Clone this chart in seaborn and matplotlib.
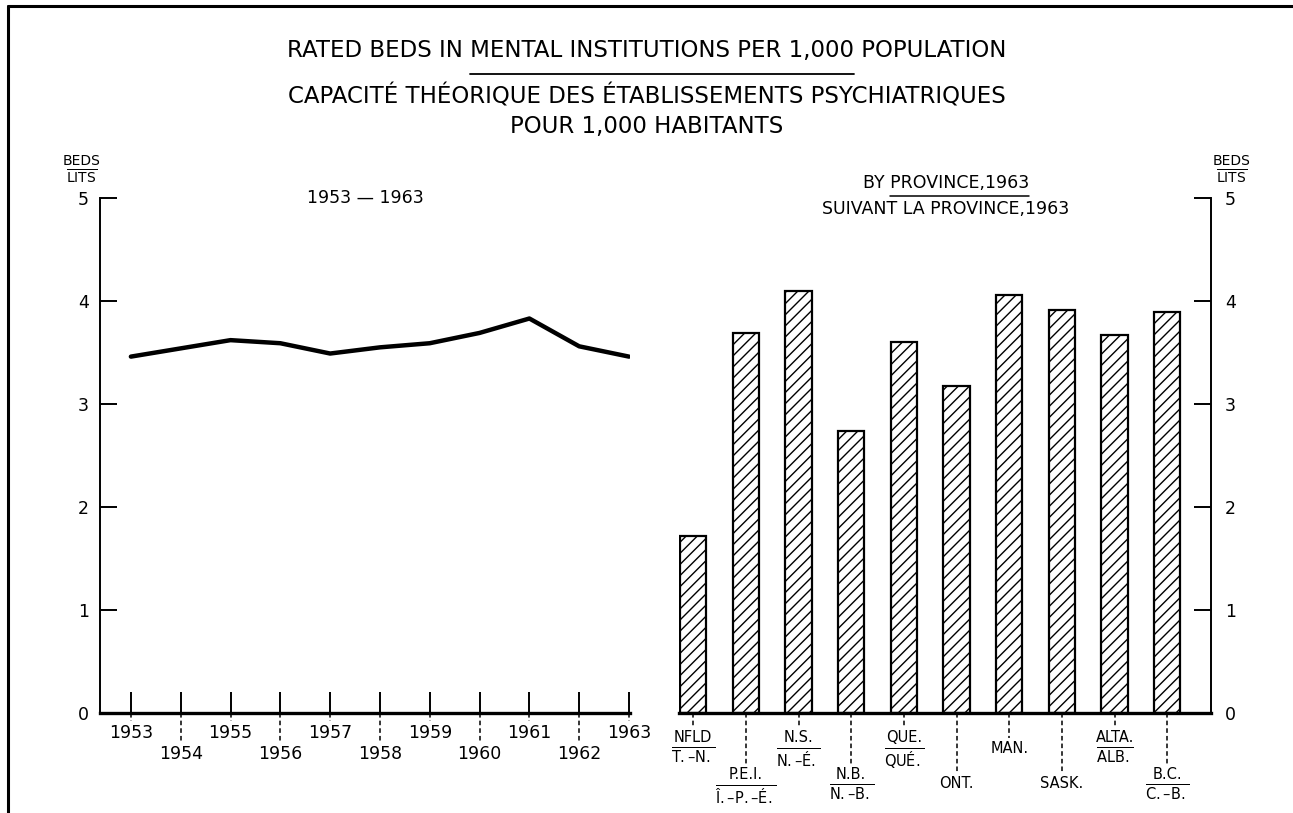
import numpy as np
import pandas as pd
import matplotlib
matplotlib.use("Agg")
import matplotlib.pyplot as plt
from matplotlib.lines import Line2D
import seaborn as sns

# donnees
years = [1953, 1954, 1955, 1956, 1957, 1958, 1959, 1960, 1961, 1962, 1963]
beds_trend = [3.46, 3.54, 3.62, 3.59, 3.49, 3.55, 3.59, 3.69, 3.83, 3.56, 3.46]

provinces = ["NFLD", "P.E.I.", "N.S.", "N.B.", "QUE.", "ONT.", "MAN.", "SASK.", "ALTA.", "B.C."]
provinces_fr = ["T.–N.", "Î.–P.–É.", "N.–É.", "N.–B.", "QUÉ.", None, None, None, "ALB.", "C.–B."]
beds_1963 = [1.72, 3.69, 4.10, 2.74, 3.60, 3.17, 4.06, 3.91, 3.67, 3.89]

title_en = "RATED BEDS IN MENTAL INSTITUTIONS PER 1,000 POPULATION"
title_fr = "CAPACITÉ THÉORIQUE DES ÉTABLISSEMENTS PSYCHIATRIQUES"
title_fr2 = "POUR 1,000 HABITANTS"

sns.set_theme(style="white")
plt.rcParams['font.family'] = ['DejaVu Sans']
plt.rcParams['mathtext.fontset'] = 'dejavusans'
plt.rcParams['hatch.linewidth'] = 1.0
plt.rcParams['hatch.color'] = 'black'
plt.rcParams['text.color'] = 'black'
plt.rcParams['xtick.color'] = 'black'
plt.rcParams['ytick.color'] = 'black'
plt.rcParams['axes.labelcolor'] = 'black'

W, H = 1293, 813
fig = plt.figure(figsize=(W / 100, H / 100), dpi=100)
fig.patch.set_facecolor('white')

def fx(px):
    return px / W

def fy(py):
    return 1 - py / H

ax1 = fig.add_axes([fx(100), fy(713), fx(630) - fx(100), fy(198) - fy(713)])
ax2 = fig.add_axes([fx(679), fy(713), fx(1211) - fx(679), fy(198) - fy(713)])

# Partie gauche : evolution 1953-1963
df_trend = pd.DataFrame({'year': years, 'beds': beds_trend})
sns.lineplot(data=df_trend, x='year', y='beds', ax=ax1, color='black', lw=3.2)
ax1.set_xlim(1952.38, 1963.02)
ax1.set_ylim(0, 5)
ax1.set_xlabel('')
ax1.set_ylabel('')
for s in ['top', 'right']:
    ax1.spines[s].set_visible(False)
ax1.spines['left'].set_linewidth(1.4)
ax1.spines['bottom'].set_linewidth(2.4)
for s in ax1.spines.values():
    s.set_color('black')
ax1.set_yticks(range(6))
ax1.set_yticklabels([str(v) for v in range(6)])
ax1.set_xticks(years)
ax1.set_xticklabels([str(y) if i % 2 == 0 else '\n' + str(y) for i, y in enumerate(years)])
ax1.tick_params(axis='y', direction='in', length=12, width=1.4, pad=8, labelsize=12.5, left=True)
ax1.tick_params(axis='x', direction='in', length=15, width=1.4, pad=8, labelsize=12.5, bottom=True)
trans1 = ax1.get_xaxis_transform()
for i, y in enumerate(years):
    low = -8 / 515 if i % 2 == 0 else -30 / 515
    ax1.plot([y, y], [0, low], transform=trans1, color='black', lw=1.1,
             ls=(0, (3, 2)), clip_on=False)
ax1.text(0.5, 1.0, "1953 — 1963", transform=ax1.transAxes, ha='center', va='center',
         fontsize=12.5)

# Partie droite : par province, 1963
df_prov = pd.DataFrame({'province': provinces, 'beds': beds_1963})
sns.barplot(data=df_prov, x='province', y='beds', ax=ax2, color='white', width=0.5,
            edgecolor='black', linewidth=1.6, hatch='///', saturation=1)
for p in ax2.patches:
    p.set_facecolor('white')
    p.set_edgecolor('black')
ax2.set_xlim(-0.27, 9.83)
ax2.set_ylim(0, 5)
ax2.set_xlabel('')
ax2.set_ylabel('')
for s in ['top', 'left']:
    ax2.spines[s].set_visible(False)
ax2.spines['right'].set_visible(True)
ax2.spines['right'].set_linewidth(1.4)
ax2.spines['bottom'].set_linewidth(2.4)
for s in ax2.spines.values():
    s.set_color('black')
ax2.yaxis.tick_right()
ax2.set_yticks(range(6))
ax2.set_yticklabels([str(v) for v in range(6)])
ax2.tick_params(axis='y', direction='in', length=12, width=1.4, pad=10, labelsize=12.5,
                right=True, left=False)
ax2.set_xticks([])

trans2 = ax2.get_xaxis_transform()
row1_two, row2_two, row1_one, row2_one = 17, 54, 28, 63
for i, (en, fr) in enumerate(zip(provinces, provinces_fr)):
    if fr is None:
        top = row1_one if i % 2 == 0 else row2_one
        label = en
    else:
        top = row1_two if i % 2 == 0 else row2_two
        label = en + "\n" + r"$\overline{\mathrm{" + fr + "}}$"
    ax2.plot([i, i], [0, -(top - 3) / 515], transform=trans2, color='black', lw=1.1,
             ls=(0, (3, 2)), clip_on=False)
    ax2.annotate(label, xy=(i, 0), xycoords=trans2, xytext=(0, -top * 0.72),
                 textcoords='offset points', ha='center', va='top', fontsize=10.5,
                 linespacing=1.1, annotation_clip=False)

# titres
fig.text(0.5, fy(50), title_en, ha='center', va='center', fontsize=16.5)
fig.text(0.5, fy(96), title_fr, ha='center', va='center', fontsize=16.5)
fig.text(0.5, fy(126), title_fr2, ha='center', va='center', fontsize=16.5)
fig.text(fx(946), fy(183), "BY PROVINCE,1963", ha='center', va='center', fontsize=12.5)
fig.text(fx(946), fy(209), "SUIVANT LA PROVINCE,1963", ha='center', va='center', fontsize=12.5)

# unites
for xc in (82, 1232):
    fig.text(fx(xc), fy(170), "BEDS\n" + r"$\overline{\mathrm{LITS}}$", ha='center',
             va='center', fontsize=10, linespacing=1.0)

# soulignements
renderer = fig.canvas.get_renderer()

def text_width(s, size):
    t = fig.text(0, 0, s, fontsize=size)
    w = t.get_window_extent(renderer).width
    t.remove()
    return w

full = text_width(title_en, 16.5)
x0 = W / 2 - full / 2
u0 = x0 + text_width("RATED BEDS IN ", 16.5)
u1 = x0 + text_width("RATED BEDS IN MENTAL INSTITUTIONS PER 1,000", 16.5)
fig.add_artist(Line2D([fx(u0), fx(u1)], [fy(74), fy(74)], color='black', lw=1.3))

full = text_width("BY PROVINCE,1963", 12.5)
x0 = 946 - full / 2
u0 = x0 + text_width("BY ", 12.5)
fig.add_artist(Line2D([fx(u0), fx(x0 + full)], [fy(196), fy(196)], color='black', lw=1.1))

# cadre
fig.add_artist(Line2D([fx(8), fx(8)], [fy(6), 0], color='black', lw=2.2))
fig.add_artist(Line2D([fx(8), 1], [fy(6), fy(6)], color='black', lw=2.2))

fig.savefig('out.png', dpi=100, facecolor='white')
